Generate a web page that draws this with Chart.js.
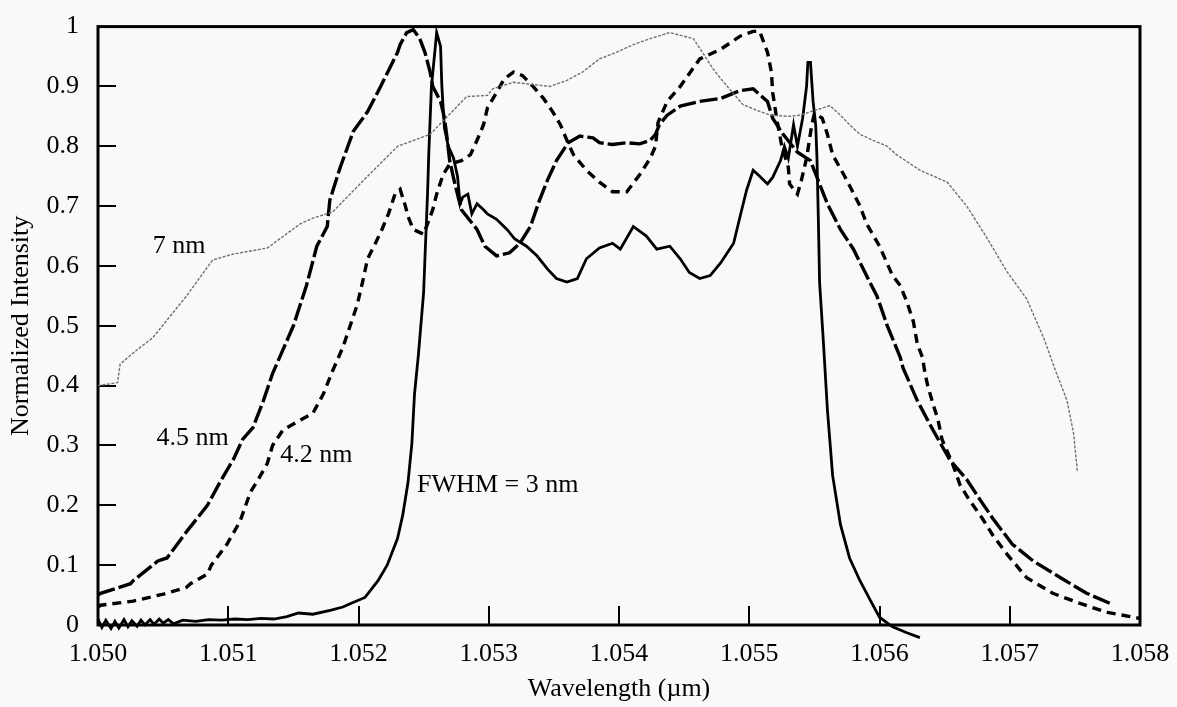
<!DOCTYPE html>
<html>
<head>
<meta charset="utf-8">
<title>Normalized Intensity vs Wavelength</title>
<script src="https://cdn.jsdelivr.net/npm/chart.js@4.4.1/dist/chart.umd.min.js"></script>
<style>
  html, body { margin: 0; padding: 0; background: #f9f9f9; }
  canvas { display: block; }
</style>
</head>
<body>
<canvas id="spectra" width="1177" height="707"></canvas>
<script>
// values: wavelength (um) / normalized intensity
const wl7nm = [1.05000, 1.05015, 1.05017, 1.05030, 1.05042, 1.05068, 1.05088, 1.05104, 1.05130, 1.05155,
  1.05165, 1.05180, 1.05207, 1.05230, 1.05255, 1.05283, 1.05299, 1.05303, 1.05319, 1.05347,
  1.05360, 1.05372, 1.05385, 1.05398, 1.05411, 1.05424, 1.05439, 1.05457, 1.05464, 1.05472,
  1.05480, 1.05495, 1.05506, 1.05516, 1.05531, 1.05539, 1.05562, 1.05570, 1.05577, 1.05585,
  1.05595, 1.05606, 1.05613, 1.05631, 1.05652, 1.05667, 1.05683, 1.05698, 1.05713, 1.05726,
  1.05736, 1.05744, 1.05749, 1.05752];
const int7nm = [0.400, 0.405, 0.436, 0.460, 0.480, 0.550, 0.610, 0.620, 0.630, 0.670,
  0.680, 0.690, 0.750, 0.800, 0.820, 0.883, 0.885, 0.896, 0.907, 0.900,
  0.910, 0.924, 0.946, 0.957, 0.970, 0.980, 0.990, 0.980, 0.957, 0.930,
  0.908, 0.870, 0.860, 0.852, 0.850, 0.852, 0.868, 0.852, 0.836, 0.820,
  0.810, 0.800, 0.786, 0.760, 0.740, 0.700, 0.645, 0.590, 0.545, 0.480,
  0.420, 0.375, 0.320, 0.255];

const wl45nm = [1.05000, 1.05002, 1.05025, 1.05027, 1.05046, 1.05053, 1.05068, 1.05084, 1.05094, 1.05104,
  1.05111, 1.05119, 1.05127, 1.05134, 1.05150, 1.05160, 1.05168, 1.05176, 1.05178, 1.05186,
  1.05196, 1.05207, 1.05217, 1.05230, 1.05232, 1.05237, 1.05242, 1.05247, 1.05251, 1.05255,
  1.05257, 1.05263, 1.05266, 1.05268, 1.05270, 1.05274, 1.05279, 1.05291, 1.05297, 1.05306,
  1.05316, 1.05324, 1.05332, 1.05339, 1.05345, 1.05352, 1.05361, 1.05370, 1.05380, 1.05385,
  1.05395, 1.05406, 1.05416, 1.05424, 1.05428, 1.05431, 1.05437, 1.05447, 1.05462, 1.05478,
  1.05493, 1.05503, 1.05514, 1.05518, 1.05526, 1.05537, 1.05547, 1.05552, 1.05560, 1.05570,
  1.05580, 1.05590, 1.05598, 1.05606, 1.05616, 1.05618, 1.05629, 1.05641, 1.05654, 1.05667,
  1.05677, 1.05687, 1.05702, 1.05718, 1.05739, 1.05759, 1.05777];
const int45nm = [0.050, 0.053, 0.069, 0.074, 0.107, 0.112, 0.156, 0.200, 0.240, 0.277,
  0.310, 0.330, 0.375, 0.420, 0.500, 0.567, 0.633, 0.666, 0.710, 0.765,
  0.825, 0.858, 0.900, 0.957, 0.970, 0.990, 0.995, 0.980, 0.957, 0.924,
  0.900, 0.875, 0.847, 0.814, 0.776, 0.737, 0.694, 0.661, 0.633, 0.617,
  0.622, 0.638, 0.666, 0.710, 0.743, 0.776, 0.806, 0.817, 0.814, 0.806,
  0.803, 0.806, 0.804, 0.810, 0.820, 0.836, 0.852, 0.867, 0.875, 0.880,
  0.893, 0.896, 0.875, 0.847, 0.820, 0.790, 0.776, 0.748, 0.704, 0.661,
  0.628, 0.584, 0.550, 0.500, 0.447, 0.430, 0.375, 0.326, 0.276, 0.243,
  0.210, 0.178, 0.135, 0.107, 0.079, 0.053, 0.036];

const wl42nm = [1.05000, 1.05002, 1.05027, 1.05051, 1.05068, 1.05071, 1.05084, 1.05087, 1.05099, 1.05109,
  1.05117, 1.05123, 1.05130, 1.05134, 1.05142, 1.05155, 1.05165, 1.05173, 1.05180, 1.05188,
  1.05199, 1.05203, 1.05207, 1.05213, 1.05218, 1.05223, 1.05228, 1.05232, 1.05236, 1.05238,
  1.05242, 1.05250, 1.05257, 1.05260, 1.05265, 1.05270, 1.05279, 1.05286, 1.05291, 1.05296,
  1.05299, 1.05306, 1.05312, 1.05319, 1.05326, 1.05334, 1.05342, 1.05349, 1.05355, 1.05360,
  1.05365, 1.05375, 1.05385, 1.05395, 1.05406, 1.05416, 1.05424, 1.05428, 1.05430, 1.05437,
  1.05447, 1.05462, 1.05478, 1.05493, 1.05503, 1.05508, 1.05514, 1.05517, 1.05518, 1.05521,
  1.05525, 1.05530, 1.05531, 1.05537, 1.05540, 1.05544, 1.05548, 1.05550, 1.05556, 1.05560,
  1.05564, 1.05575, 1.05585, 1.05590, 1.05600, 1.05610, 1.05616, 1.05621, 1.05626, 1.05629,
  1.05633, 1.05635, 1.05637, 1.05641, 1.05645, 1.05648, 1.05656, 1.05662, 1.05669, 1.05679,
  1.05687, 1.05698, 1.05713, 1.05733, 1.05754, 1.05775, 1.05800];
const int42nm = [0.030, 0.033, 0.040, 0.052, 0.063, 0.069, 0.085, 0.100, 0.135, 0.173,
  0.222, 0.243, 0.270, 0.300, 0.326, 0.342, 0.354, 0.386, 0.424, 0.464,
  0.535, 0.572, 0.612, 0.638, 0.661, 0.687, 0.720, 0.728, 0.700, 0.683,
  0.661, 0.653, 0.694, 0.720, 0.753, 0.770, 0.776, 0.786, 0.810, 0.836,
  0.864, 0.890, 0.913, 0.924, 0.918, 0.900, 0.880, 0.858, 0.836, 0.810,
  0.786, 0.760, 0.740, 0.724, 0.724, 0.753, 0.780, 0.800, 0.840, 0.875,
  0.900, 0.946, 0.962, 0.984, 0.992, 0.992, 0.957, 0.924, 0.890, 0.847,
  0.800, 0.765, 0.737, 0.720, 0.743, 0.780, 0.836, 0.855, 0.847, 0.820,
  0.786, 0.743, 0.700, 0.671, 0.633, 0.584, 0.567, 0.540, 0.507, 0.470,
  0.447, 0.420, 0.400, 0.370, 0.342, 0.310, 0.270, 0.233, 0.209, 0.178,
  0.150, 0.118, 0.079, 0.053, 0.036, 0.021, 0.011];

const wl3nm = [1.05000, 1.05003, 1.05006, 1.05010, 1.05013, 1.05016, 1.05020, 1.05023, 1.05026, 1.05030,
  1.05033, 1.05036, 1.05040, 1.05043, 1.05047, 1.05050, 1.05054, 1.05058, 1.05065, 1.05075,
  1.05085, 1.05095, 1.05105, 1.05115, 1.05125, 1.05135, 1.05145, 1.05154, 1.05165, 1.05179,
  1.05188, 1.05194, 1.05205, 1.05215, 1.05222, 1.05230, 1.05234, 1.05238, 1.05241, 1.05243,
  1.05246, 1.05250, 1.05251, 1.05253, 1.05254, 1.05256, 1.05259, 1.05260, 1.05263, 1.05264,
  1.05265, 1.05266, 1.05269, 1.05273, 1.05276, 1.05278, 1.05280, 1.05284, 1.05287, 1.05291,
  1.05296, 1.05299, 1.05306, 1.05314, 1.05320, 1.05329, 1.05337, 1.05345, 1.05352, 1.05360,
  1.05368, 1.05375, 1.05385, 1.05395, 1.05401, 1.05411, 1.05421, 1.05429, 1.05439, 1.05447,
  1.05454, 1.05462, 1.05470, 1.05478, 1.05488, 1.05493, 1.05498, 1.05503, 1.05508, 1.05514,
  1.05518, 1.05524, 1.05527, 1.05530, 1.05534, 1.05537, 1.05541, 1.05544, 1.05545, 1.05547,
  1.05549, 1.05551, 1.05552, 1.05553, 1.05554, 1.05557, 1.05560, 1.05564, 1.05570, 1.05577,
  1.05585, 1.05593, 1.05600, 1.05610, 1.05621, 1.05631];
const int3nm = [0.010, -0.004, 0.008, -0.006, 0.006, -0.005, 0.009, -0.003, 0.007, -0.002,
  0.008, 0.000, 0.009, 0.001, 0.010, 0.003, 0.009, 0.002, 0.008, 0.006,
  0.009, 0.008, 0.010, 0.009, 0.011, 0.010, 0.014, 0.020, 0.018, 0.025,
  0.030, 0.036, 0.046, 0.074, 0.100, 0.145, 0.184, 0.238, 0.304, 0.386,
  0.452, 0.556, 0.612, 0.720, 0.790, 0.900, 0.967, 0.990, 0.967, 0.900,
  0.864, 0.830, 0.800, 0.780, 0.750, 0.704, 0.715, 0.720, 0.687, 0.704,
  0.694, 0.687, 0.678, 0.661, 0.645, 0.633, 0.617, 0.595, 0.579, 0.573,
  0.579, 0.612, 0.630, 0.638, 0.628, 0.666, 0.650, 0.628, 0.633, 0.612,
  0.589, 0.579, 0.584, 0.605, 0.638, 0.683, 0.727, 0.760, 0.750, 0.737,
  0.748, 0.776, 0.800, 0.780, 0.836, 0.800, 0.847, 0.900, 0.940, 0.940,
  0.875, 0.836, 0.780, 0.683, 0.573, 0.470, 0.360, 0.250, 0.168, 0.112,
  0.074, 0.041, 0.013, -0.003, -0.013, -0.021];

const xTickVals = [1.050, 1.051, 1.052, 1.053, 1.054, 1.055, 1.056, 1.057, 1.058];
const yTickVals = [0, 0.1, 0.2, 0.3, 0.4, 0.5, 0.6, 0.7, 0.8, 0.9, 1];

// in-plot curve labels
const noteText = ['7 nm', '4.5 nm', '4.2 nm', 'FWHM = 3 nm'];
const noteX = [1.05042, 1.05045, 1.05140, 1.05245];
const noteY = [0.633, 0.312, 0.283, 0.234];

const pairs = (xs, ys) => xs.map((v, i) => ({ x: v, y: ys[i] }));

const serif = '"Liberation Serif", "Times New Roman", serif';

const frame = {
  id: 'frame',
  beforeDatasetsDraw(chart) {
    const { ctx, chartArea: a, scales: { x, y } } = chart;
    ctx.save();
    ctx.strokeStyle = '#000';
    ctx.lineWidth = 2;
    ctx.beginPath();
    yTickVals.slice(1, -1).forEach(v => {
      const py = Math.round(y.getPixelForValue(v));
      ctx.moveTo(a.left, py);
      ctx.lineTo(a.left + 18, py);
    });
    xTickVals.slice(1, -1).forEach(v => {
      const px = Math.round(x.getPixelForValue(v));
      ctx.moveTo(px, a.bottom);
      ctx.lineTo(px, a.bottom - 19);
    });
    ctx.stroke();
    ctx.lineWidth = 3;
    ctx.strokeRect(a.left, a.top, a.right - a.left, a.bottom - a.top);
    ctx.restore();
  },
  afterDatasetsDraw(chart) {
    const { ctx, scales: { x, y } } = chart;
    ctx.save();
    ctx.fillStyle = '#000';
    ctx.font = '26px ' + serif;
    ctx.textAlign = 'left';
    ctx.textBaseline = 'middle';
    noteText.forEach((t, i) => {
      ctx.fillText(t, x.getPixelForValue(noteX[i]), y.getPixelForValue(noteY[i]));
    });
    ctx.restore();
  }
};

new Chart(document.getElementById('spectra'), {
  type: 'scatter',
  data: {
    datasets: [
      {
        label: '7 nm',
        data: pairs(wl7nm, int7nm),
        showLine: true,
        borderColor: '#707070',
        borderWidth: 1.4,
        borderDash: [3, 1.5],
        pointRadius: 0
      },
      {
        label: '4.5 nm',
        data: pairs(wl45nm, int45nm),
        showLine: true,
        borderColor: '#000',
        borderWidth: 3.4,
        borderDash: [18, 4],
        pointRadius: 0
      },
      {
        label: '4.2 nm',
        data: pairs(wl42nm, int42nm),
        showLine: true,
        borderColor: '#000',
        borderWidth: 3.4,
        borderDash: [9, 6],
        pointRadius: 0
      },
      {
        label: 'FWHM = 3 nm',
        data: pairs(wl3nm, int3nm),
        showLine: true,
        borderColor: '#000',
        borderWidth: 2.8,
        pointRadius: 0,
        clip: false
      }
    ]
  },
  options: {
    responsive: false,
    animation: false,
    devicePixelRatio: 1,
    layout: { padding: { top: 17, right: 37, left: 0, bottom: 0 } },
    plugins: { legend: { display: false }, tooltip: { enabled: false } },
    scales: {
      x: {
        type: 'linear',
        min: 1.050,
        max: 1.058,
        afterBuildTicks: s => { s.ticks = xTickVals.map(v => ({ value: v })); },
        afterFit: s => { s.height = 82; },
        grid: { display: false },
        border: { display: false },
        ticks: {
          autoSkip: false,
          maxRotation: 0,
          padding: 6,
          color: '#000',
          font: { family: serif, size: 26 },
          callback: v => v.toFixed(3)
        },
        title: {
          display: true,
          text: 'Wavelength (µm)',
          color: '#000',
          font: { family: serif, size: 26 },
          padding: { top: 0, bottom: 2 }
        }
      },
      y: {
        min: 0,
        max: 1,
        afterBuildTicks: s => { s.ticks = yTickVals.map(v => ({ value: v })); },
        afterFit: s => { s.width = 98; },
        grid: { display: false },
        border: { display: false },
        ticks: {
          autoSkip: false,
          padding: 11,
          color: '#000',
          font: { family: serif, size: 26 },
          callback: v => (v === 0 || v === 1) ? String(v) : v.toFixed(1)
        },
        title: {
          display: true,
          text: 'Normalized Intensity',
          color: '#000',
          font: { family: serif, size: 26 },
          padding: { top: 6, bottom: 0 }
        }
      }
    }
  },
  plugins: [frame]
});
</script>
</body>
</html>
